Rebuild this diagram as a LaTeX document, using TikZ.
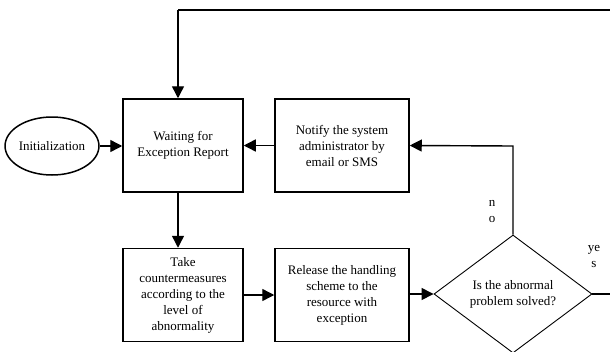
\documentclass[tikz,border=0pt]{standalone}
\usepackage{fontspec}
\setmainfont{Liberation Serif}
\usetikzlibrary{arrows.meta,shapes.geometric}
\begin{document}
\begin{tikzpicture}[x=1pt,y=-1pt,
  txt/.style={font=\fontsize{13}{16}\selectfont},
  box/.style={txt,draw,line width=1.5pt,minimum width=120pt,minimum height=93pt,inner sep=0pt,align=center},
  conn/.style={line width=1.4pt,-{Triangle[length=12pt,width=12pt]}},
  plain/.style={line width=1.4pt},
  lbl/.style={txt,align=center,inner sep=0pt}]
\useasboundingbox (0,0) rectangle (610,351);
\clip (0,0) rectangle (610,351);
\node[txt,draw,ellipse,line width=1.5pt,minimum width=90pt,minimum height=58pt,inner sep=0pt] (init) at (52,146) {Initialization};
\node[box] (wait) at (183,145.5) {Waiting for\\Exception Report};
\node[box,minimum width=134pt] (notify) at (342,145.5) {Notify the system\\administrator by\\email or SMS};
\node[box] (take) at (183,295) {Take\\countermeasures\\according to the\\level of\\abnormality};
\node[box,minimum width=134pt] (rel) at (342,295) {Release the handling\\scheme to the\\resource with\\exception};
\node[txt,draw,diamond,line width=0.9pt,minimum width=158pt,minimum height=118pt,inner sep=0pt,align=center] (dec) at (513,294) {Is the abnormal\\problem solved?};
\coordinate (topr) at (610,10);
\coordinate (topl) at (178,10);
\coordinate (yesend) at (610,294);
\coordinate (bend) at (513,146);
\node[lbl] (no) at (492,211) {n\\o};
\node[lbl] (yes) at (594,256) {ye\\s};
\draw[plain] (topr) -- (topl);
\draw[conn] (topl) -- (wait.north -| topl);
\draw[conn] (init) -- (wait.west |- init);
\draw[conn] (notify.west) -- (wait.east);
\draw[conn] (wait.south -| topl) -- (take.north -| topl);
\draw[conn] (take.east) -- (rel.west);
\draw[conn] (rel.east |- dec) -- (dec.west);
\draw[conn] (dec.north) -- (bend) -- (notify.east);
\draw[plain] (dec.east) -- (yesend);
\end{tikzpicture}
\end{document}
